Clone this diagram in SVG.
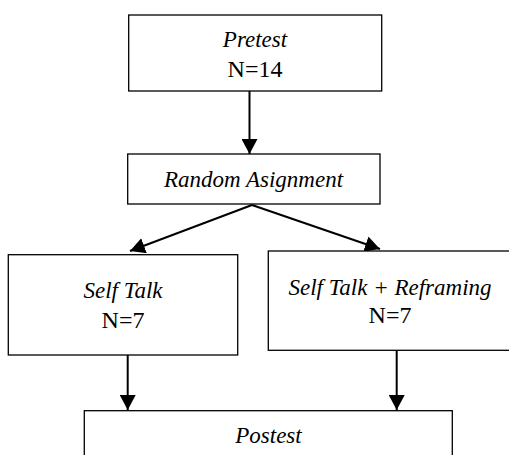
<svg xmlns="http://www.w3.org/2000/svg" width="509" height="455" viewBox="0 0 509 455">
<defs>
<marker id="ah" markerWidth="16" markerHeight="16" viewBox="0 0 16 16" refX="15" refY="8" orient="auto" markerUnits="userSpaceOnUse">
<path d="M0,0 L15,8 L0,16 Z" fill="#000"/>
</marker>
<style>
.box{fill:#fff;stroke:#000;stroke-width:1.3}
text{font-family:Liberation Serif, Tinos, DejaVu Serif, serif}
.it{font-style:italic;font-size:23px;text-anchor:middle;fill:#000}
.rg{font-size:24px;text-anchor:middle;fill:#000}
.cn{stroke:#000;stroke-width:2;fill:none}
</style>
</defs>
<rect width="509" height="455" fill="#fff"/>
<g id="connectors">
<line class="cn" x1="249.5" y1="91" x2="249.5" y2="154" marker-end="url(#ah)"/>
<line class="cn" x1="252" y1="205" x2="130" y2="251" marker-end="url(#ah)"/>
<line class="cn" x1="252" y1="205" x2="380" y2="249" marker-end="url(#ah)"/>
<line class="cn" x1="127.7" y1="355" x2="127.7" y2="410" marker-end="url(#ah)"/>
<line class="cn" x1="396.7" y1="351" x2="396.7" y2="410" marker-end="url(#ah)"/>
</g>
<g id="pretest">
<rect class="box" x="128.7" y="15" width="253" height="76"/>
<text class="it" x="255" y="47">Pretest</text>
<text class="rg" x="255" y="77">N=14</text>
</g>
<g id="random">
<rect class="box" x="127.7" y="154" width="252.3" height="50"/>
<text class="it" x="253.5" y="187">Random Asignment</text>
</g>
<g id="selftalk">
<rect class="box" x="8.3" y="254.7" width="229.4" height="100.3"/>
<text class="it" x="123" y="298">Self Talk</text>
<text class="rg" x="123" y="328">N=7</text>
</g>
<g id="selftalk-reframing">
<rect class="box" x="268.3" y="251" width="250" height="99.3"/>
<text class="it" x="390" y="295">Self Talk + Reframing</text>
<text class="rg" x="390" y="323">N=7</text>
</g>
<g id="postest">
<rect class="box" x="84.3" y="410.7" width="368" height="60"/>
<text class="it" x="268.5" y="443">Postest</text>
</g>
</svg>
